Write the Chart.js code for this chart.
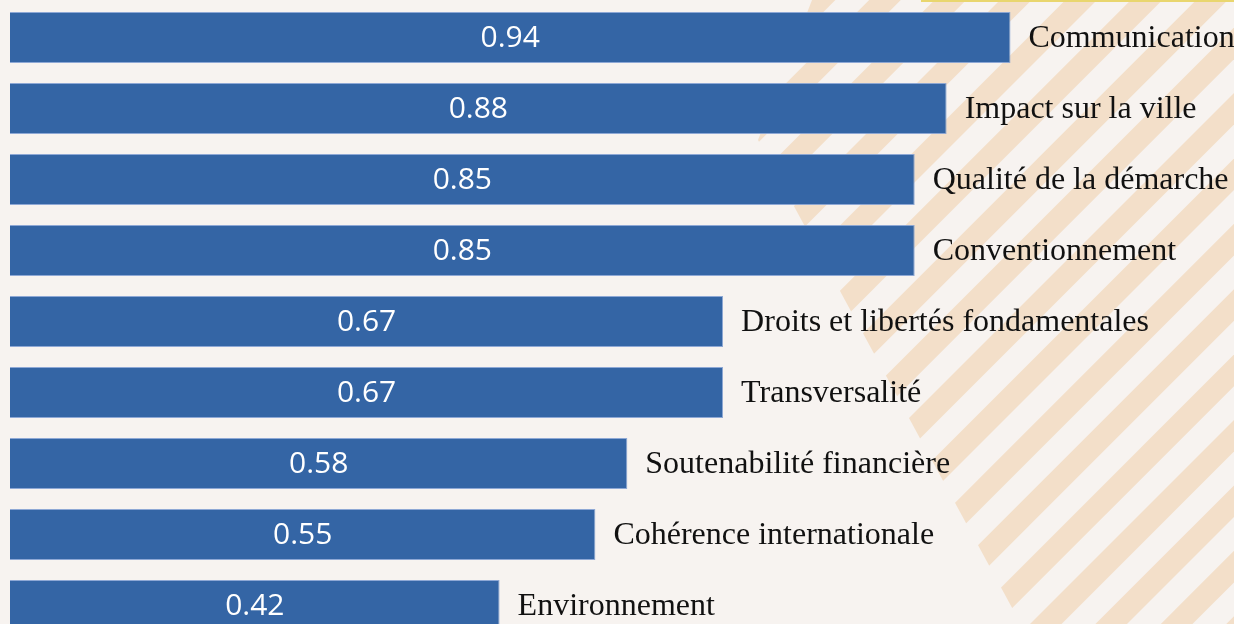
<!DOCTYPE html>
<html>
<head>
<meta charset="utf-8">
<script src="https://cdn.jsdelivr.net/npm/chart.js@4/dist/chart.umd.min.js"></script>
<style>
  html, body { margin: 0; padding: 0; overflow: hidden; background: #f7f3f0; }
  #wrap { width: 1234px; height: 641px; }
</style>
</head>
<body>
<div id="wrap"><canvas id="chart"></canvas></div>
<script>
// categories, top to bottom
var categories = ['Communication', 'Impact sur la ville', 'Qualité de la démarche', 'Conventionnement',
  'Droits et libertés fondamentales', 'Transversalité', 'Soutenabilité financière',
  'Cohérence internationale', 'Environnement'];
// bar lengths as drawn
var barValues = [0.94, 0.88, 0.85, 0.85, 0.67, 0.67, 0.58, 0.55, 0.46];
// numbers printed in the bars
var valueLabels = ['0.94', '0.88', '0.85', '0.85', '0.67', '0.67', '0.58', '0.55', '0.42'];

var bgPlugin = {
  id: 'bg',
  beforeDraw: function(chart) {
    var c = chart.ctx, w = chart.width, h = chart.height;
    c.save();
    c.fillStyle = '#f7f3f0';
    c.fillRect(0, 0, w, h);
    // diagonal stripes on the right side
    c.beginPath();
    c.moveTo(812, 0);
    c.lineTo(w, 0);
    c.lineTo(w, h);
    c.lineTo(682 + 0.543 * h, h);
    c.lineTo(758, 140);
    c.closePath();
    c.clip();
    c.fillStyle = '#f3dfc9';
    for (var s = 1327 - 20 * 65.4; s < w + h; s += 65.4) {
      c.beginPath();
      c.moveTo(s, 0);
      c.lineTo(s + 31.6, 0);
      c.lineTo(s + 31.6 - h, h);
      c.lineTo(s - h, h);
      c.closePath();
      c.fill();
    }
    c.restore();
    // thin yellow rule at top right
    c.save();
    c.fillStyle = '#e9d66e';
    c.fillRect(921, 0, w - 921, 2);
    c.restore();
  }
};

var labelPlugin = {
  id: 'labels',
  afterDatasetsDraw: function(chart) {
    var c = chart.ctx;
    var bars = chart.getDatasetMeta(0).data;
    c.save();
    c.textBaseline = 'middle';
    for (var i = 0; i < bars.length; i++) {
      var b = bars[i];
      c.fillStyle = '#ffffff';
      c.font = '500 30px "Open Sans", "Noto Sans", sans-serif';
      c.textAlign = 'center';
      c.fillText(valueLabels[i], (b.base + b.x) / 2, b.y + 1);
      c.fillStyle = '#111111';
      c.font = '32px "Liberation Serif", "DejaVu Serif", serif';
      c.textAlign = 'left';
      c.fillText(categories[i], b.x + 18, b.y + 1);
    }
    c.restore();
  }
};

new Chart(document.getElementById('chart').getContext('2d'), {
  type: 'bar',
  data: {
    labels: categories,
    datasets: [{
      data: barValues,
      backgroundColor: '#3465a5',
      borderColor: 'rgba(130,160,210,0.9)',
      borderWidth: 1,
      barPercentage: 0.72,
      categoryPercentage: 1
    }]
  },
  options: {
    indexAxis: 'y',
    responsive: true,
    maintainAspectRatio: false,
    animation: false,
    layout: { padding: { left: 10, right: 0, top: 2, bottom: 0 } },
    plugins: { legend: { display: false }, tooltip: { enabled: false } },
    scales: {
      x: { display: false, min: 0, max: 1.15 },
      y: { display: false }
    }
  },
  plugins: [bgPlugin, labelPlugin]
});
</script>
</body>
</html>
